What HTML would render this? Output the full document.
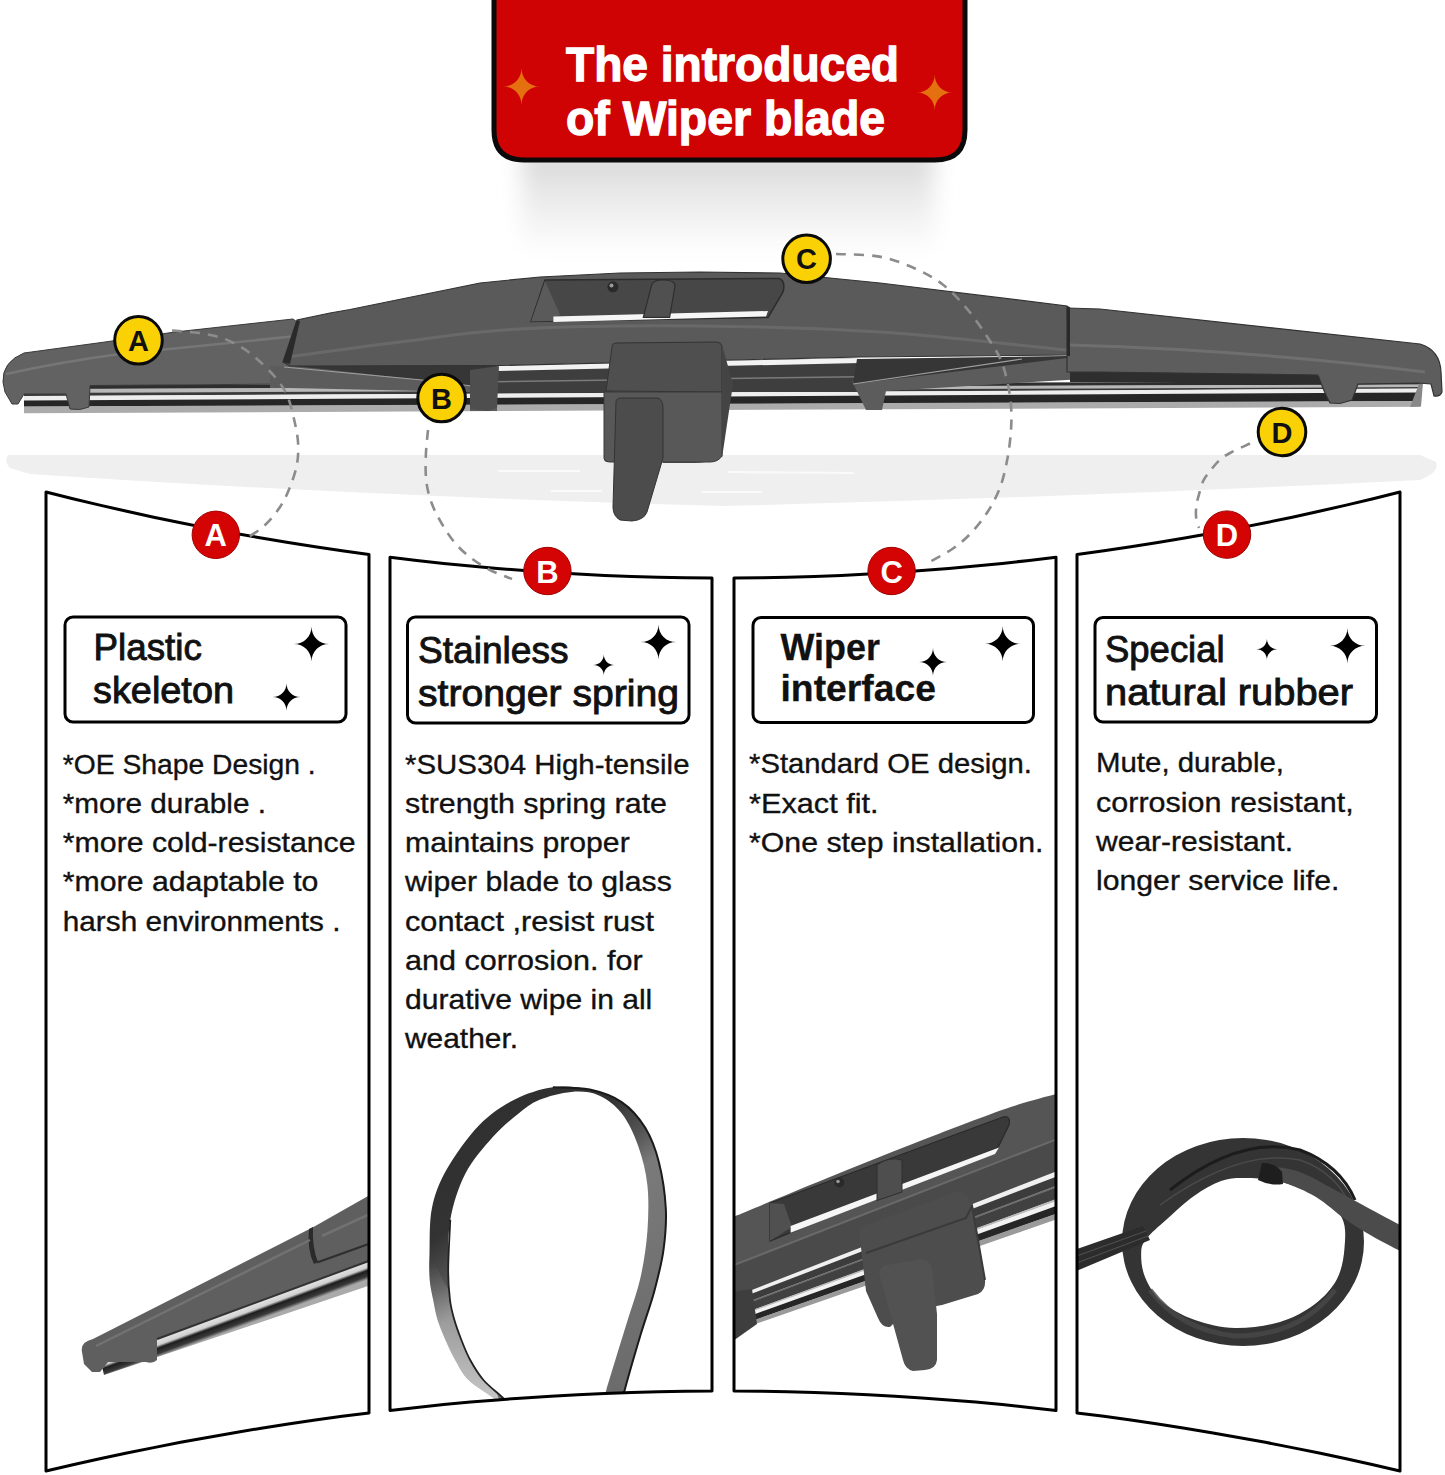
<!DOCTYPE html>
<html><head><meta charset="utf-8"><title>The introduced of Wiper blade</title>
<style>
html,body{margin:0;padding:0;background:#fff;}
body{width:1445px;height:1475px;overflow:hidden;position:relative;font-family:"Liberation Sans",sans-serif;}
svg{position:absolute;left:0;top:0;display:block;}
</style></head><body>
<svg width="1445" height="1475" viewBox="0 0 1445 1475">
<defs>
<filter id="blur8" x="-20%" y="-50%" width="140%" height="200%"><feGaussianBlur stdDeviation="14"/></filter>
<filter id="blur2"><feGaussianBlur stdDeviation="1.2"/></filter>
<linearGradient id="railg" x1="0" y1="0" x2="0" y2="1">
<stop offset="0" stop-color="#e8e8e8"/><stop offset="0.12" stop-color="#cfcfcf"/>
<stop offset="0.2" stop-color="#2a2a2a"/><stop offset="0.42" stop-color="#3a3a3a"/>
<stop offset="0.47" stop-color="#9a9a9a"/><stop offset="0.55" stop-color="#e6e6e6"/>
<stop offset="0.66" stop-color="#dcdcdc"/><stop offset="0.72" stop-color="#1e1e1e"/>
<stop offset="0.84" stop-color="#2a2a2a"/><stop offset="0.9" stop-color="#b5b5b5"/>
<stop offset="1" stop-color="#9a9a9a"/>
</linearGradient>
<linearGradient id="railA" gradientUnits="userSpaceOnUse" x1="230" y1="1300" x2="240" y2="1327">
<stop offset="0" stop-color="#2a2a2a"/><stop offset="0.3" stop-color="#3a3a3a"/><stop offset="0.45" stop-color="#e0e0e0"/>
<stop offset="0.6" stop-color="#cfcfcf"/><stop offset="0.7" stop-color="#1e1e1e"/><stop offset="0.88" stop-color="#3a3a3a"/><stop offset="1" stop-color="#aaa"/></linearGradient>
<linearGradient id="railC" gradientUnits="userSpaceOnUse" x1="880" y1="1235" x2="900" y2="1290">
<stop offset="0" stop-color="#f0f0f0"/><stop offset="0.12" stop-color="#ddd"/><stop offset="0.18" stop-color="#3a3a3a"/>
<stop offset="0.45" stop-color="#444"/><stop offset="0.55" stop-color="#cfcfcf"/><stop offset="0.62" stop-color="#f0f0f0"/>
<stop offset="0.7" stop-color="#2a2a2a"/><stop offset="0.85" stop-color="#333"/><stop offset="1" stop-color="#bbb"/></linearGradient>
<linearGradient id="loopB" gradientUnits="userSpaceOnUse" x1="440" y1="1100" x2="660" y2="1380">
<stop offset="0" stop-color="#2e2e2e"/><stop offset="0.3" stop-color="#333"/><stop offset="0.42" stop-color="#555"/><stop offset="0.5" stop-color="#7a7a7a"/>
<stop offset="1" stop-color="#6a6a6a"/></linearGradient>
<linearGradient id="loopBL" gradientUnits="userSpaceOnUse" x1="0" y1="1262" x2="0" y2="1400">
<stop offset="0" stop-color="#fff" stop-opacity="0"/><stop offset="0.5" stop-color="#fff" stop-opacity="0.3"/><stop offset="1" stop-color="#fff" stop-opacity="0.6"/></linearGradient>
</defs>
<linearGradient id="shg" x1="0" y1="0" x2="0" y2="1"><stop offset="0" stop-color="#d4d4d4"/><stop offset="0.35" stop-color="#e6e6e6"/><stop offset="0.75" stop-color="#f6f6f6"/><stop offset="1" stop-color="#fff"/></linearGradient>
<filter id="blur10" x="-20%" y="-30%" width="140%" height="160%"><feGaussianBlur stdDeviation="11"/></filter>
<rect x="522" y="150" width="412" height="105" fill="url(#shg)" filter="url(#blur10)"/>
<path d="M494,-5 L494,130 Q494,160 524,160 L935,160 Q965,160 965,130 L965,-5 Z" fill="#cf0303" stroke="#0a0a0a" stroke-width="5"/>
<path d="M521.50,68.00 C521.50,78.36 529.42,86.50 539.50,86.50 C529.42,86.50 521.50,94.64 521.50,105.00 C521.50,94.64 513.58,86.50 503.50,86.50 C513.58,86.50 521.50,78.36 521.50,68.00 Z" fill="#e5700f"/>
<path d="M934.70,74.50 C934.70,84.58 942.40,92.50 952.20,92.50 C942.40,92.50 934.70,100.42 934.70,110.50 C934.70,100.42 927.00,92.50 917.20,92.50 C927.00,92.50 934.70,84.58 934.70,74.50 Z" fill="#e5700f"/>
<text x="566" y="80.5" font-family="Liberation Sans" font-weight="bold" font-size="48" fill="#fff" stroke="#fff" stroke-width="1.3" textLength="333" lengthAdjust="spacingAndGlyphs">The introduced</text>
<text x="566" y="135" font-family="Liberation Sans" font-weight="bold" font-size="48" fill="#fff" stroke="#fff" stroke-width="1.3" textLength="319" lengthAdjust="spacingAndGlyphs">of Wiper blade</text>
<path d="M8,455 Q4,462 10,468 L30,474 Q360,496 723,506 Q1080,497 1420,480 Q1440,472 1436,462 L1420,455 Z" fill="#efefef"/>
<path d="M498,471 L580,471 M728,472 L854,473 M551,491 L602,491 M701,492 L762,492" stroke="#fafafa" stroke-width="2.2" fill="none"/>
<path d="M24,385.0 L1420,381.5 L1420,384.8 L24,389.3 Z" fill="#2e2e2e"/>
<path d="M24,389.0 L1420,384.5 L1420,387.3 L24,393.3 Z" fill="#b8b8b8"/>
<path d="M24,393.0 L1420,387.0 L1420,388.8 L24,396.3 Z" fill="#3a3a3a"/>
<path d="M24,396.0 L1420,388.5 L1420,392.8 L24,400.8 Z" fill="#eeeeee"/>
<path d="M24,400.5 L1420,392.5 L1420,401.3 L24,406.8 Z" fill="#262626"/>
<path d="M24,406.5 L1420,401.0 L1420,406.8 L24,413.3 Z" fill="#ababab"/>
<path d="M1420,381.5 L1423,383 L1421,406.5 L1410,407 Z" fill="#888"/>
<path d="M497,365.5 L860,358 L860,392 L497,392 Z" fill="#3e3e3e"/>
<path d="M497,365.5 L860,358 L860,363 L497,371 Z" fill="#f2f2f2"/>
<path d="M497,381 L860,376 L860,377.5 L497,382.5 Z" fill="#7a7a7a"/>
<path d="M3,382 Q2,362 24,353 L105,342 L175,332 L293,319 L297,322 L297,384 L90,385.5 L89,407 Q80,411 70,409 L66,394 L24,394 L18,404 L12,404 L5,392 Z" fill="#626262" stroke="#3a3a3a" stroke-width="1"/>
<path d="M6,374 Q60,362 120,354 L297,336" stroke="#7c7c7c" stroke-width="2.5" fill="none" opacity="0.8"/>
<path d="M270,366 L290,366 L497,364 L497,411 L470,411 L470,392 L290,388 L270,388 Z" fill="#5c5c5c"/>
<path d="M290,366 L497,364 L497,389 L422,380 L322,369 Z" fill="#363636"/>
<path d="M284,367 L422,380 L497,389" stroke="#a0a0a0" stroke-width="1.2" fill="none"/>
<path d="M470,370 L499,366 L497,408 L488,411 L470,409 Z" fill="#4e4e4e"/>
<path d="M283,362 L297,320 L330,313 L350,309.5 L480,283 L540,277 L620,273 L700,272 L780,273 L880,283 L1067,306 L1069,355 L860,357 L500,365.5 L290,366 Z" fill="#5a5a5a" stroke="#333" stroke-width="1.2"/>
<path d="M287.0,357.0 C305.8,354.5 361.2,346.7 400.0,342.0 C438.8,337.3 470.0,331.7 520.0,329.0 C570.0,326.3 640.0,325.5 700.0,326.0 C760.0,326.5 818.8,328.0 880.0,332.0 C941.2,336.0 1035.8,347.0 1067.0,350.0" stroke="#6c6c6c" stroke-width="3" fill="none" opacity="0.85"/>
<path d="M283,362 L297,320 L300,321 L290,364 Z" fill="#2a2a2a"/>
<path d="M531,321.5 L545,280 L779,278.5 Q786,281 783,292 L768,317.5 Z" fill="#474747" stroke="#2c2c2c" stroke-width="1.5"/>
<path d="M545,281 L560,314.5 L553,321 L531,321.5 Z" fill="#5a5a5a"/>
<path d="M553.4,316.5 L768,311 L766,316.5 L553.4,322 Z" fill="#f6f6f6"/>
<circle cx="612.9" cy="286.8" r="5.5" fill="#2a2a2a"/><circle cx="611.5" cy="285.5" r="2" fill="#999"/>
<path d="M643.3,317.3 L651.6,285 Q653,280 663,280 Q675,280 675,286 L669.6,317.3 Z" fill="#505050" stroke="#2e2e2e" stroke-width="1.2"/>
<path d="M852,381 L1067,357 L1100,372 L1100,378 L886,391 L882,410 L866,410 Z" fill="#5c5c5c"/>
<path d="M857,359 L1067,356 L1067,358 L853,384 Z" fill="#363636"/>
<path d="M853,384 L1022,359" stroke="#a0a0a0" stroke-width="1.2" fill="none"/>
<path d="M1070,370 L1310,371 Q1318,373 1322,382 L1070,382 Z" fill="#2e2e2e"/>
<path d="M1067,308 L1100,309 L1420,344 Q1440,350 1441,372 L1442,392 Q1440,397 1434,396 L1431,384 L1418,383 L1358,384 L1352,400 L1340,403.5 L1330,403 Q1324,392 1318,375 L1100,372 L1067,372 Z" fill="#5d5d5d" stroke="#333" stroke-width="1.2"/>
<path d="M1070,345 Q1250,350 1425,372" stroke="#747474" stroke-width="3" fill="none" opacity="0.8"/>
<path d="M1067,306 L1070,307 L1070,356 L1067,356 Z" fill="#2a2a2a"/>
<path d="M612,343 L721,342 L732,384 L711,460 Q705,463 695,463 L663,463 L660,398 L614,399 L604,457 Q603,462 608,462 L613,462 Z" fill="#525252"/>
<path d="M612,347 Q612,343 617,343 L716,342 Q721,342 722,347 L722,392 L606,391 Z" fill="#4f4f4f" stroke="#333" stroke-width="1"/>
<path d="M604,392 L722,392 L722,456 Q718,462 710,462 L610,462 Q603,462 604,455 Z" fill="#585858" stroke="#3a3a3a" stroke-width="1"/>
<path d="M722,345 L733,384 L722,458 Z" fill="#444"/>
<path d="M616,402 Q616,398 622,398 L656,398 Q663,398 663,408 L663,458 L647,512 Q644,520 632,521 L620,520 Q613,516 613,507 Z" fill="#4c4c4c" stroke="#333" stroke-width="1"/>
<defs>
<clipPath id="pc0"><path d="M46.0,492.0 L72.9,498.7 L99.8,505.1 L126.8,511.3 L153.7,517.2 L180.6,522.8 L207.5,528.1 L234.4,533.2 L261.3,538.0 L288.2,542.5 L315.2,546.8 L342.1,550.8 L369.0,554.5 L369.0,1412.9 L342.1,1416.3 L315.2,1420.0 L288.2,1424.0 L261.3,1428.2 L234.4,1432.7 L207.5,1437.4 L180.6,1442.3 L153.7,1447.6 L126.8,1453.0 L99.8,1458.8 L72.9,1464.7 L46.0,1471.0 Z"/></clipPath>
<clipPath id="pc1"><path d="M390.0,557.2 L416.8,560.4 L443.7,563.4 L470.5,566.0 L497.3,568.4 L524.2,570.6 L551.0,572.5 L577.8,574.0 L604.7,575.4 L631.5,576.4 L658.3,577.2 L685.2,577.7 L712.0,578.0 L712.0,1391.0 L685.2,1391.2 L658.3,1391.7 L631.5,1392.5 L604.7,1393.4 L577.8,1394.7 L551.0,1396.2 L524.2,1397.9 L497.3,1399.9 L470.5,1402.1 L443.7,1404.6 L416.8,1407.4 L390.0,1410.4 Z"/></clipPath>
<clipPath id="pc2"><path d="M734.0,578.0 L760.8,577.7 L787.7,577.2 L814.5,576.4 L841.3,575.4 L868.2,574.0 L895.0,572.5 L921.8,570.6 L948.7,568.4 L975.5,566.0 L1002.3,563.4 L1029.2,560.4 L1056.0,557.2 L1056.0,1410.4 L1029.2,1407.4 L1002.3,1404.6 L975.5,1402.1 L948.7,1399.9 L921.8,1397.9 L895.0,1396.2 L868.2,1394.7 L841.3,1393.4 L814.5,1392.5 L787.7,1391.7 L760.8,1391.2 L734.0,1391.0 Z"/></clipPath>
<clipPath id="pc3"><path d="M1077.0,554.5 L1103.9,550.8 L1130.8,546.8 L1157.8,542.5 L1184.7,538.0 L1211.6,533.2 L1238.5,528.1 L1265.4,522.8 L1292.3,517.2 L1319.2,511.3 L1346.2,505.1 L1373.1,498.7 L1400.0,492.0 L1400.0,1471.0 L1373.1,1464.7 L1346.2,1458.8 L1319.2,1453.0 L1292.3,1447.6 L1265.4,1442.3 L1238.5,1437.4 L1211.6,1432.7 L1184.7,1428.2 L1157.8,1424.0 L1130.8,1420.0 L1103.9,1416.3 L1077.0,1412.9 Z"/></clipPath>
</defs>
<path d="M46.0,492.0 L72.9,498.7 L99.8,505.1 L126.8,511.3 L153.7,517.2 L180.6,522.8 L207.5,528.1 L234.4,533.2 L261.3,538.0 L288.2,542.5 L315.2,546.8 L342.1,550.8 L369.0,554.5 L369.0,1412.9 L342.1,1416.3 L315.2,1420.0 L288.2,1424.0 L261.3,1428.2 L234.4,1432.7 L207.5,1437.4 L180.6,1442.3 L153.7,1447.6 L126.8,1453.0 L99.8,1458.8 L72.9,1464.7 L46.0,1471.0 Z" fill="#fff"/>
<path d="M390.0,557.2 L416.8,560.4 L443.7,563.4 L470.5,566.0 L497.3,568.4 L524.2,570.6 L551.0,572.5 L577.8,574.0 L604.7,575.4 L631.5,576.4 L658.3,577.2 L685.2,577.7 L712.0,578.0 L712.0,1391.0 L685.2,1391.2 L658.3,1391.7 L631.5,1392.5 L604.7,1393.4 L577.8,1394.7 L551.0,1396.2 L524.2,1397.9 L497.3,1399.9 L470.5,1402.1 L443.7,1404.6 L416.8,1407.4 L390.0,1410.4 Z" fill="#fff"/>
<path d="M734.0,578.0 L760.8,577.7 L787.7,577.2 L814.5,576.4 L841.3,575.4 L868.2,574.0 L895.0,572.5 L921.8,570.6 L948.7,568.4 L975.5,566.0 L1002.3,563.4 L1029.2,560.4 L1056.0,557.2 L1056.0,1410.4 L1029.2,1407.4 L1002.3,1404.6 L975.5,1402.1 L948.7,1399.9 L921.8,1397.9 L895.0,1396.2 L868.2,1394.7 L841.3,1393.4 L814.5,1392.5 L787.7,1391.7 L760.8,1391.2 L734.0,1391.0 Z" fill="#fff"/>
<path d="M1077.0,554.5 L1103.9,550.8 L1130.8,546.8 L1157.8,542.5 L1184.7,538.0 L1211.6,533.2 L1238.5,528.1 L1265.4,522.8 L1292.3,517.2 L1319.2,511.3 L1346.2,505.1 L1373.1,498.7 L1400.0,492.0 L1400.0,1471.0 L1373.1,1464.7 L1346.2,1458.8 L1319.2,1453.0 L1292.3,1447.6 L1265.4,1442.3 L1238.5,1437.4 L1211.6,1432.7 L1184.7,1428.2 L1157.8,1424.0 L1130.8,1420.0 L1103.9,1416.3 L1077.0,1412.9 Z" fill="#fff"/>
<g clip-path="url(#pc0)"><path d="M104,1375 L368,1286 L368,1260 L155,1338 L100,1358 Z" fill="url(#railA)"/></g>
<g clip-path="url(#pc0)"><path d="M82,1352 Q80,1342 93,1339 L312.5,1227.5 L317,1225 L370,1195 L370,1261 L157,1339 L157,1360 Q153,1364 146,1362 L108,1362 L100,1372 L92,1372 L84,1364 Z" fill="#5f5f5f"/></g>
<g clip-path="url(#pc0)"><path d="M309,1229 L313,1227 Q312,1248 318,1262 L314,1264 Q307,1250 309,1229 Z" fill="#2a2a2a"/></g>
<g clip-path="url(#pc0)"><path d="M317,1262.5 L370,1243.5" stroke="#2e2e2e" stroke-width="2" fill="none"/></g>
<g clip-path="url(#pc0)"><path d="M157,1339 L370,1260.5" stroke="#333" stroke-width="2" fill="none"/></g>
<g clip-path="url(#pc0)"><path d="M96,1346 L310,1240 M322,1236 L370,1214" stroke="#727272" stroke-width="2.5" fill="none"/></g>
<g clip-path="url(#pc1)"><path d="M500.0,1404.0 C498.7,1402.8 497.4,1401.0 492.2,1397.0 C486.9,1393.0 474.7,1386.2 468.5,1380.0 C462.3,1373.8 459.0,1366.7 455.2,1360.0 C451.4,1353.3 448.4,1346.7 445.5,1340.0 C442.6,1333.3 439.7,1326.7 437.6,1320.0 C435.6,1313.3 434.5,1306.7 433.2,1300.0 C431.9,1293.3 430.3,1287.7 429.7,1280.0 C429.1,1272.3 429.1,1266.0 429.5,1254.0 C429.9,1242.0 429.0,1222.5 431.9,1208.3 C434.8,1194.1 439.0,1182.9 446.9,1169.1 C454.8,1155.3 468.0,1136.8 479.1,1125.3 C490.2,1113.8 501.4,1106.3 513.7,1100.0 C526.0,1093.7 540.2,1089.0 552.9,1087.3 C565.6,1085.6 578.3,1087.1 589.8,1089.6 C601.3,1092.1 612.8,1096.0 622.0,1102.3 C631.2,1108.6 639.0,1117.6 645.1,1127.6 C651.2,1137.6 655.5,1148.8 658.9,1162.2 C662.3,1175.7 665.0,1193.7 665.8,1208.3 C666.6,1222.9 665.4,1236.0 663.5,1249.8 C661.6,1263.6 658.1,1277.0 654.3,1291.2 C650.5,1305.4 645.5,1318.3 640.5,1335.0 C635.5,1351.7 627.3,1380.2 624.3,1391.5 C621.3,1402.8 622.8,1401.1 622.5,1403.0 L604.5,1403.0 C604.7,1401.1 602.2,1404.8 605.9,1391.5 C609.6,1378.2 620.8,1342.5 626.6,1323.5 C632.4,1304.5 637.0,1292.8 640.5,1277.4 C644.0,1262.0 646.2,1246.7 647.4,1231.3 C648.5,1215.9 648.9,1199.4 647.4,1185.2 C645.9,1171.0 642.4,1157.9 638.2,1146.0 C634.0,1134.1 628.5,1122.2 622.0,1113.8 C615.5,1105.4 607.5,1099.1 599.0,1095.4 C590.5,1091.8 581.3,1091.1 571.3,1091.9 C561.3,1092.7 547.8,1096.3 539.0,1100.0 C530.2,1103.7 526.0,1107.7 518.3,1113.8 C510.6,1119.9 501.8,1126.8 493.0,1136.8 C484.2,1146.8 472.4,1159.9 465.3,1173.7 C458.2,1187.5 453.2,1203.8 450.3,1219.8 C447.4,1235.8 448.2,1256.6 448.2,1270.0 C448.1,1283.4 449.0,1291.7 450.0,1300.0 C451.0,1308.3 452.5,1313.3 454.4,1320.0 C456.3,1326.7 458.8,1333.3 461.4,1340.0 C464.0,1346.7 466.5,1353.3 470.2,1360.0 C473.9,1366.7 478.1,1373.8 483.4,1380.0 C488.7,1386.2 497.9,1393.0 502.0,1397.0 C506.1,1401.0 507.0,1402.8 508.0,1404.0 Z" fill="url(#loopB)"/></g>
<g clip-path="url(#pc1)"><path d="M500.0,1404.0 C498.7,1402.8 497.4,1401.0 492.2,1397.0 C486.9,1393.0 474.7,1386.2 468.5,1380.0 C462.3,1373.8 459.0,1366.7 455.2,1360.0 C451.4,1353.3 448.4,1346.7 445.5,1340.0 C442.6,1333.3 439.7,1326.7 437.6,1320.0 C435.6,1313.3 434.5,1306.7 433.2,1300.0 C431.9,1293.3 430.3,1287.7 429.7,1280.0 C429.1,1272.3 429.5,1258.3 429.5,1254.0 L508.0,1404.0 C507.0,1402.8 506.1,1401.0 502.0,1397.0 C497.9,1393.0 488.7,1386.2 483.4,1380.0 C478.1,1373.8 473.9,1366.7 470.2,1360.0 C466.5,1353.3 464.0,1346.7 461.4,1340.0 C458.8,1333.3 456.3,1326.7 454.4,1320.0 C452.5,1313.3 451.0,1308.3 450.0,1300.0 C449.0,1291.7 448.1,1283.4 448.2,1270.0 C448.2,1256.6 449.9,1228.2 450.3,1219.8 Z" fill="url(#loopBL)"/></g>
<g clip-path="url(#pc1)"><path d="M552.9,1087.3 C559.0,1087.7 578.3,1087.1 589.8,1089.6 C601.3,1092.1 612.8,1096.0 622.0,1102.3 C631.2,1108.6 639.0,1117.6 645.1,1127.6 C651.2,1137.6 655.5,1148.8 658.9,1162.2 C662.3,1175.7 665.0,1193.7 665.8,1208.3 C666.6,1222.9 665.4,1236.0 663.5,1249.8 C661.6,1263.6 658.1,1277.0 654.3,1291.2 C650.5,1305.4 645.5,1318.3 640.5,1335.0 C635.5,1351.7 627.3,1380.2 624.3,1391.5 C621.3,1402.8 622.8,1401.1 622.5,1403.0" stroke="#1a1a1a" stroke-width="2" fill="none"/></g>
<g clip-path="url(#pc1)"><path d="M450.3,1219.8 C449.9,1228.2 448.2,1256.6 448.2,1270.0 C448.1,1283.4 449.0,1291.7 450.0,1300.0 C451.0,1308.3 452.5,1313.3 454.4,1320.0 C456.3,1326.7 458.8,1333.3 461.4,1340.0 C464.0,1346.7 466.5,1353.3 470.2,1360.0 C473.9,1366.7 478.1,1373.8 483.4,1380.0 C488.7,1386.2 497.9,1393.0 502.0,1397.0 C506.1,1401.0 507.0,1402.8 508.0,1404.0" stroke="#222" stroke-width="1.8" fill="none"/></g>
<g clip-path="url(#pc2)"><path d="M733,1297.0 L1058,1170.3 L1058,1176.2 L733,1301.3 Z" fill="#f0f0f0"/></g>
<g clip-path="url(#pc2)"><path d="M733,1301.0 L1058,1175.9 L1058,1185.3 L733,1307.8 Z" fill="#3c3c3c"/></g>
<g clip-path="url(#pc2)"><path d="M733,1307.5 L1058,1185.0 L1058,1187.1 L733,1309.1 Z" fill="#707070"/></g>
<g clip-path="url(#pc2)"><path d="M733,1308.8 L1058,1186.8 L1058,1198.6 L733,1317.3 Z" fill="#414141"/></g>
<g clip-path="url(#pc2)"><path d="M733,1317.0 L1058,1198.3 L1058,1200.7 L733,1318.8 Z" fill="#bcbcbc"/></g>
<g clip-path="url(#pc2)"><path d="M733,1318.5 L1058,1200.4 L1058,1205.6 L733,1322.3 Z" fill="#f2f2f2"/></g>
<g clip-path="url(#pc2)"><path d="M733,1322.0 L1058,1205.3 L1058,1213.3 L733,1327.8 Z" fill="#262626"/></g>
<g clip-path="url(#pc2)"><path d="M733,1327.5 L1058,1213.0 L1058,1218.9 L733,1331.8 Z" fill="#9a9a9a"/></g>
<g clip-path="url(#pc2)"><path d="M733.0,1217.0 C748.3,1210.7 794.7,1191.3 825.0,1179.0 C855.3,1166.7 885.0,1154.7 915.0,1143.0 C945.0,1131.3 981.2,1117.2 1005.0,1109.0 C1028.8,1100.8 1049.2,1096.1 1058.0,1093.5 L1058,1138.7 L733,1265.4 Z" fill="#555"/></g>
<g clip-path="url(#pc2)"><path d="M733,1265.4 L1058,1138.7 L1058,1170.6 L733,1297.3 Z" fill="#4a4a4a"/></g>
<g clip-path="url(#pc2)"><path d="M733,1265.4 L1058,1138.7" stroke="#6a6a6a" stroke-width="2" fill="none"/></g>
<g clip-path="url(#pc2)"><path d="M733,1292 L752,1289 L757,1324 L733,1341 Z" fill="#3e3e3e"/></g>
<g clip-path="url(#pc2)"><path d="M770,1203 L1003,1117 Q1011,1115 1009,1125 L998,1147.5 L770,1241 Z" fill="#393939" stroke="#2a2a2a" stroke-width="1.2"/></g>
<g clip-path="url(#pc2)"><path d="M770,1203 L784,1204 L792,1227 L770,1241 Z" fill="#505050"/></g>
<g clip-path="url(#pc2)"><path d="M790.6,1226 L999,1147.5 L995,1154 L790.6,1232.7 Z" fill="#f6f6f6"/></g>
<g clip-path="url(#pc2)"><path d="M877,1165 Q889,1156 902,1160 L902,1192 L877,1200.5 Z" fill="#4e4e4e" stroke="#2e2e2e" stroke-width="1"/></g>
<g clip-path="url(#pc2)"><circle cx="839.4" cy="1182.5" r="5" fill="#2a2a2a"/><circle cx="838" cy="1181.5" r="1.8" fill="#999"/></g>
<g clip-path="url(#pc2)"><path d="M859,1230 Q860,1226 866,1225 L956,1192 Q962,1191 966,1196 L973,1206 L985,1280 Q986,1290 978,1294 L942,1305 L905,1312 L890,1327 Q882,1328 878,1318 L866,1291 Z" fill="#4d4d4d"/></g>
<g clip-path="url(#pc2)"><path d="M879,1273 Q880,1266 887,1265 L922,1259 Q929,1260 932,1268 L937,1314 L937,1360 Q936,1369 925,1370 L913,1371 Q905,1369 903,1360 Z" fill="#525252"/></g>
<g clip-path="url(#pc2)"><path d="M866,1253 L966,1218 L972,1206 L985,1280" stroke="#3a3a3a" stroke-width="2" fill="none"/></g>
<g clip-path="url(#pc3)"><path d="M1122,1242 A121,104 0 1,0 1364,1242 A121,104 0 1,0 1122,1242 Z M1141.2,1252.0 C1140.9,1258.5 1141.5,1268.7 1145.0,1277.0 C1148.5,1285.3 1153.7,1294.8 1162.0,1302.0 C1170.3,1309.2 1182.8,1315.7 1195.0,1320.0 C1207.2,1324.3 1220.8,1327.7 1235.0,1328.0 C1249.2,1328.3 1266.7,1326.0 1280.0,1322.0 C1293.3,1318.0 1305.5,1311.2 1315.0,1304.0 C1324.5,1296.8 1332.1,1288.3 1337.0,1279.0 C1341.9,1269.7 1343.7,1258.2 1344.5,1248.0 C1345.3,1237.8 1346.4,1226.7 1342.0,1218.0 C1337.6,1209.3 1328.2,1202.0 1318.0,1196.0 C1307.8,1190.0 1292.5,1184.7 1280.5,1181.7 C1268.5,1178.7 1255.9,1178.1 1246.0,1178.0 C1236.1,1177.9 1229.7,1178.0 1221.0,1181.0 C1212.3,1184.0 1203.2,1189.5 1194.0,1196.0 C1184.8,1202.5 1173.8,1213.0 1166.0,1220.0 C1158.2,1227.0 1151.1,1232.7 1147.0,1238.0 C1142.9,1243.3 1141.5,1245.5 1141.2,1252.0 Z" fill="#343434" fill-rule="evenodd"/></g>
<g clip-path="url(#pc3)"><path d="M1150,1290 Q1180,1330 1235,1336 Q1300,1336 1335,1290" stroke="#484848" stroke-width="5" fill="none" opacity="0.8"/></g>
<g clip-path="url(#pc3)"><path d="M1170,1190 Q1240,1135 1300,1150 Q1340,1165 1355,1200" stroke="#1c1c1c" stroke-width="3" fill="none"/></g>
<g clip-path="url(#pc3)"><path d="M1160,1205 Q1240,1148 1300,1160 Q1335,1172 1350,1205" stroke="#4a4a4a" stroke-width="1.5" fill="none"/></g>
<g clip-path="url(#pc3)"><path d="M1074,1250 L1143,1226 L1150,1240 L1074,1272 Z" fill="#2c2c2c"/></g>
<g clip-path="url(#pc3)"><path d="M1074,1257 L1146,1231 M1074,1264 L1148,1236" stroke="#4d4d4d" stroke-width="1.3" fill="none"/></g>
<g clip-path="url(#pc3)"><path d="M1268.0,1166.0 C1273.3,1167.0 1288.8,1168.0 1300.0,1172.0 C1311.2,1176.0 1323.3,1183.8 1335.0,1190.0 C1346.7,1196.2 1358.8,1203.0 1370.0,1209.0 C1381.2,1215.0 1396.7,1223.2 1402.0,1226.0 L1402,1252 L1402.0,1252.0 C1397.0,1249.3 1381.5,1241.5 1372.0,1236.0 C1362.5,1230.5 1354.3,1225.5 1345.0,1219.0 C1335.7,1212.5 1326.0,1203.0 1316.0,1197.0 C1306.0,1191.0 1292.7,1185.5 1285.0,1183.0 C1277.3,1180.5 1272.5,1182.2 1270.0,1182.0 Z" fill="#4b4b4b"/></g>
<g clip-path="url(#pc3)"><path d="M1262,1163 Q1276,1163 1282,1172 L1283,1184 Q1270,1186 1258,1180 Z" fill="#1e1e1e"/></g>
<path d="M46.0,492.0 L72.9,498.7 L99.8,505.1 L126.8,511.3 L153.7,517.2 L180.6,522.8 L207.5,528.1 L234.4,533.2 L261.3,538.0 L288.2,542.5 L315.2,546.8 L342.1,550.8 L369.0,554.5 L369.0,1412.9 L342.1,1416.3 L315.2,1420.0 L288.2,1424.0 L261.3,1428.2 L234.4,1432.7 L207.5,1437.4 L180.6,1442.3 L153.7,1447.6 L126.8,1453.0 L99.8,1458.8 L72.9,1464.7 L46.0,1471.0 Z" fill="none" stroke="#000" stroke-width="3" stroke-linejoin="round"/>
<path d="M390.0,557.2 L416.8,560.4 L443.7,563.4 L470.5,566.0 L497.3,568.4 L524.2,570.6 L551.0,572.5 L577.8,574.0 L604.7,575.4 L631.5,576.4 L658.3,577.2 L685.2,577.7 L712.0,578.0 L712.0,1391.0 L685.2,1391.2 L658.3,1391.7 L631.5,1392.5 L604.7,1393.4 L577.8,1394.7 L551.0,1396.2 L524.2,1397.9 L497.3,1399.9 L470.5,1402.1 L443.7,1404.6 L416.8,1407.4 L390.0,1410.4 Z" fill="none" stroke="#000" stroke-width="3" stroke-linejoin="round"/>
<path d="M734.0,578.0 L760.8,577.7 L787.7,577.2 L814.5,576.4 L841.3,575.4 L868.2,574.0 L895.0,572.5 L921.8,570.6 L948.7,568.4 L975.5,566.0 L1002.3,563.4 L1029.2,560.4 L1056.0,557.2 L1056.0,1410.4 L1029.2,1407.4 L1002.3,1404.6 L975.5,1402.1 L948.7,1399.9 L921.8,1397.9 L895.0,1396.2 L868.2,1394.7 L841.3,1393.4 L814.5,1392.5 L787.7,1391.7 L760.8,1391.2 L734.0,1391.0 Z" fill="none" stroke="#000" stroke-width="3" stroke-linejoin="round"/>
<path d="M1077.0,554.5 L1103.9,550.8 L1130.8,546.8 L1157.8,542.5 L1184.7,538.0 L1211.6,533.2 L1238.5,528.1 L1265.4,522.8 L1292.3,517.2 L1319.2,511.3 L1346.2,505.1 L1373.1,498.7 L1400.0,492.0 L1400.0,1471.0 L1373.1,1464.7 L1346.2,1458.8 L1319.2,1453.0 L1292.3,1447.6 L1265.4,1442.3 L1238.5,1437.4 L1211.6,1432.7 L1184.7,1428.2 L1157.8,1424.0 L1130.8,1420.0 L1103.9,1416.3 L1077.0,1412.9 Z" fill="none" stroke="#000" stroke-width="3" stroke-linejoin="round"/>
<path d="M172.0,330.5 C176.5,330.9 190.7,331.8 199.0,333.0 C207.3,334.2 215.0,335.7 222.0,338.0 C229.0,340.3 235.2,343.5 241.0,347.0 C246.8,350.5 251.3,354.0 257.0,359.0 C262.7,364.0 270.0,371.0 275.0,377.0 C280.0,383.0 283.8,388.0 287.0,395.0 C290.2,402.0 292.2,411.2 294.0,419.0 C295.8,426.8 297.5,434.5 298.0,442.0 C298.5,449.5 298.3,456.5 297.0,464.0 C295.7,471.5 292.8,479.8 290.0,487.0 C287.2,494.2 284.3,500.5 280.0,507.0 C275.7,513.5 270.0,520.5 264.0,526.0 C258.0,531.5 247.3,537.7 244.0,540.0" stroke="#8c8c8c" stroke-width="2.6" fill="none" stroke-dasharray="10,8"/>
<path d="M428.0,430.0 C427.6,434.3 426.1,447.3 425.8,456.0 C425.5,464.7 425.4,474.0 426.4,482.0 C427.4,490.0 429.4,497.0 432.0,504.0 C434.6,511.0 438.2,517.5 442.0,524.0 C445.8,530.5 450.2,537.3 455.0,543.0 C459.8,548.7 465.2,553.5 471.0,558.0 C476.8,562.5 483.2,566.5 490.0,570.0 C496.8,573.5 508.3,577.5 512.0,579.0" stroke="#8c8c8c" stroke-width="2.6" fill="none" stroke-dasharray="10,8"/>
<path d="M836.0,254.0 C843.2,254.4 866.1,254.2 879.3,256.6 C892.5,259.0 904.3,263.8 915.0,268.5 C925.7,273.2 934.7,278.3 943.4,285.0 C952.1,291.7 959.9,300.5 967.0,308.8 C974.1,317.1 980.5,326.7 986.0,335.0 C991.5,343.3 996.7,350.8 1000.3,358.7 C1003.9,366.6 1005.7,374.5 1007.5,382.4 C1009.3,390.3 1010.4,398.1 1011.0,406.0 C1011.6,413.9 1011.6,421.3 1011.0,430.0 C1010.4,438.7 1009.3,448.8 1007.5,458.3 C1005.7,467.8 1003.5,478.1 1000.3,486.8 C997.1,495.5 993.2,503.0 988.5,510.5 C983.8,518.0 977.9,525.7 972.0,532.0 C966.1,538.3 960.7,543.2 953.0,548.5 C945.3,553.8 930.5,561.4 926.0,564.0" stroke="#8c8c8c" stroke-width="2.6" fill="none" stroke-dasharray="10,8"/>
<path d="M1250.0,443.5 C1246.7,445.1 1235.0,450.3 1230.0,453.0 C1225.0,455.7 1223.3,456.8 1220.0,459.7 C1216.7,462.6 1213.2,467.0 1210.4,470.5 C1207.6,474.0 1205.2,476.8 1203.3,480.8 C1201.4,484.8 1200.2,490.1 1199.0,494.4 C1197.8,498.6 1196.8,502.2 1196.3,506.3 C1195.8,510.4 1195.8,515.7 1196.3,519.3 C1196.8,522.9 1198.5,526.5 1199.0,528.0" stroke="#8c8c8c" stroke-width="2.6" fill="none" stroke-dasharray="10,8"/>
<rect x="65.0" y="617.0" width="281.0" height="105.0" rx="8" fill="#fff" stroke="#000" stroke-width="3"/>
<rect x="407.5" y="617.0" width="281.5" height="106.0" rx="8" fill="#fff" stroke="#000" stroke-width="3"/>
<rect x="753.0" y="617.5" width="280.5" height="105.0" rx="8" fill="#fff" stroke="#000" stroke-width="3"/>
<rect x="1095.0" y="617.5" width="281.5" height="104.5" rx="8" fill="#fff" stroke="#000" stroke-width="3"/>
<text x="93.5" y="659.6" font-family="Liberation Sans" font-size="37" fill="#111" stroke="#111" stroke-width="0.90" textLength="108.3" lengthAdjust="spacingAndGlyphs">Plastic</text>
<text x="93.0" y="703.0" font-family="Liberation Sans" font-size="37" fill="#111" stroke="#111" stroke-width="0.90" textLength="141.0" lengthAdjust="spacingAndGlyphs">skeleton</text>
<text x="418.0" y="663.4" font-family="Liberation Sans" font-size="37" fill="#111" stroke="#111" stroke-width="0.90" textLength="150.6" lengthAdjust="spacingAndGlyphs">Stainless</text>
<text x="418.0" y="705.7" font-family="Liberation Sans" font-size="37" fill="#111" stroke="#111" stroke-width="0.90" textLength="261.0" lengthAdjust="spacingAndGlyphs">stronger spring</text>
<text x="780.5" y="660.0" font-family="Liberation Sans" font-size="37" font-weight="bold" fill="#111" stroke="#111" stroke-width="0.30" textLength="99.5" lengthAdjust="spacingAndGlyphs">Wiper</text>
<text x="780.5" y="701.0" font-family="Liberation Sans" font-size="37" font-weight="bold" fill="#111" stroke="#111" stroke-width="0.30" textLength="155.5" lengthAdjust="spacingAndGlyphs">interface</text>
<text x="1105.0" y="662.0" font-family="Liberation Sans" font-size="37" fill="#111" stroke="#111" stroke-width="0.90" textLength="119.6" lengthAdjust="spacingAndGlyphs">Special</text>
<text x="1105.0" y="705.0" font-family="Liberation Sans" font-size="37" fill="#111" stroke="#111" stroke-width="0.90" textLength="248.0" lengthAdjust="spacingAndGlyphs">natural rubber</text>
<path d="M311.50,626.40 C311.50,636.26 319.24,644.00 329.10,644.00 C319.24,644.00 311.50,651.74 311.50,661.60 C311.50,651.74 303.76,644.00 293.90,644.00 C303.76,644.00 311.50,636.26 311.50,626.40 Z" fill="#000"/>
<path d="M286.50,683.30 C286.50,691.03 292.57,697.10 300.30,697.10 C292.57,697.10 286.50,703.17 286.50,710.90 C286.50,703.17 280.43,697.10 272.70,697.10 C280.43,697.10 286.50,691.03 286.50,683.30 Z" fill="#000"/>
<path d="M658.50,624.40 C658.50,634.26 666.24,642.00 676.10,642.00 C666.24,642.00 658.50,649.74 658.50,659.60 C658.50,649.74 650.76,642.00 640.90,642.00 C650.76,642.00 658.50,634.26 658.50,624.40 Z" fill="#000"/>
<path d="M603.80,654.60 C603.80,660.42 608.38,665.00 614.20,665.00 C608.38,665.00 603.80,669.58 603.80,675.40 C603.80,669.58 599.22,665.00 593.40,665.00 C599.22,665.00 603.80,660.42 603.80,654.60 Z" fill="#000"/>
<path d="M1002.70,626.00 C1002.70,635.97 1010.53,643.80 1020.50,643.80 C1010.53,643.80 1002.70,651.63 1002.70,661.60 C1002.70,651.63 994.87,643.80 984.90,643.80 C994.87,643.80 1002.70,635.97 1002.70,626.00 Z" fill="#000"/>
<path d="M933.00,648.00 C933.00,655.84 939.16,662.00 947.00,662.00 C939.16,662.00 933.00,668.16 933.00,676.00 C933.00,668.16 926.84,662.00 919.00,662.00 C926.84,662.00 933.00,655.84 933.00,648.00 Z" fill="#000"/>
<path d="M1347.40,627.90 C1347.40,637.87 1355.23,645.70 1365.20,645.70 C1355.23,645.70 1347.40,653.53 1347.40,663.50 C1347.40,653.53 1339.57,645.70 1329.60,645.70 C1339.57,645.70 1347.40,637.87 1347.40,627.90 Z" fill="#000"/>
<path d="M1266.90,638.80 C1266.90,644.68 1271.52,649.30 1277.40,649.30 C1271.52,649.30 1266.90,653.92 1266.90,659.80 C1266.90,653.92 1262.28,649.30 1256.40,649.30 C1262.28,649.30 1266.90,644.68 1266.90,638.80 Z" fill="#000"/>
<text x="62.8" y="773.7" font-family="Liberation Sans" font-size="28.5" fill="#111" stroke="#111" stroke-width="0.35" textLength="252.9" lengthAdjust="spacingAndGlyphs">*OE Shape Design .</text>
<text x="62.8" y="812.9" font-family="Liberation Sans" font-size="28.5" fill="#111" stroke="#111" stroke-width="0.35" textLength="203.2" lengthAdjust="spacingAndGlyphs">*more durable .</text>
<text x="62.8" y="852.1" font-family="Liberation Sans" font-size="28.5" fill="#111" stroke="#111" stroke-width="0.35" textLength="292.8" lengthAdjust="spacingAndGlyphs">*more cold-resistance</text>
<text x="62.8" y="891.3" font-family="Liberation Sans" font-size="28.5" fill="#111" stroke="#111" stroke-width="0.35" textLength="255.6" lengthAdjust="spacingAndGlyphs">*more adaptable to</text>
<text x="62.8" y="930.5" font-family="Liberation Sans" font-size="28.5" fill="#111" stroke="#111" stroke-width="0.35" textLength="277.7" lengthAdjust="spacingAndGlyphs">harsh environments .</text>
<text x="405.0" y="773.7" font-family="Liberation Sans" font-size="28.5" fill="#111" stroke="#111" stroke-width="0.35" textLength="284.5" lengthAdjust="spacingAndGlyphs">*SUS304 High-tensile</text>
<text x="405.0" y="812.9" font-family="Liberation Sans" font-size="28.5" fill="#111" stroke="#111" stroke-width="0.35" textLength="262.0" lengthAdjust="spacingAndGlyphs">strength spring rate</text>
<text x="405.0" y="852.1" font-family="Liberation Sans" font-size="28.5" fill="#111" stroke="#111" stroke-width="0.35" textLength="224.7" lengthAdjust="spacingAndGlyphs">maintains proper</text>
<text x="405.0" y="891.3" font-family="Liberation Sans" font-size="28.5" fill="#111" stroke="#111" stroke-width="0.35" textLength="266.8" lengthAdjust="spacingAndGlyphs">wiper blade to glass</text>
<text x="405.0" y="930.5" font-family="Liberation Sans" font-size="28.5" fill="#111" stroke="#111" stroke-width="0.35" textLength="249.0" lengthAdjust="spacingAndGlyphs">contact ,resist rust</text>
<text x="405.0" y="969.7" font-family="Liberation Sans" font-size="28.5" fill="#111" stroke="#111" stroke-width="0.35" textLength="237.6" lengthAdjust="spacingAndGlyphs">and corrosion. for</text>
<text x="405.0" y="1008.9" font-family="Liberation Sans" font-size="28.5" fill="#111" stroke="#111" stroke-width="0.35" textLength="247.3" lengthAdjust="spacingAndGlyphs">durative wipe in all</text>
<text x="405.0" y="1048.1" font-family="Liberation Sans" font-size="28.5" fill="#111" stroke="#111" stroke-width="0.35" textLength="113.0" lengthAdjust="spacingAndGlyphs">weather.</text>
<text x="749.0" y="773.3" font-family="Liberation Sans" font-size="28.5" fill="#111" stroke="#111" stroke-width="0.35" textLength="283.0" lengthAdjust="spacingAndGlyphs">*Standard OE design.</text>
<text x="749.0" y="812.5" font-family="Liberation Sans" font-size="28.5" fill="#111" stroke="#111" stroke-width="0.35" textLength="129.6" lengthAdjust="spacingAndGlyphs">*Exact fit.</text>
<text x="749.0" y="851.7" font-family="Liberation Sans" font-size="28.5" fill="#111" stroke="#111" stroke-width="0.35" textLength="294.4" lengthAdjust="spacingAndGlyphs">*One step installation.</text>
<text x="1096.0" y="772.3" font-family="Liberation Sans" font-size="28.5" fill="#111" stroke="#111" stroke-width="0.35" textLength="188.0" lengthAdjust="spacingAndGlyphs">Mute, durable,</text>
<text x="1096.0" y="811.5" font-family="Liberation Sans" font-size="28.5" fill="#111" stroke="#111" stroke-width="0.35" textLength="257.7" lengthAdjust="spacingAndGlyphs">corrosion resistant,</text>
<text x="1096.0" y="850.7" font-family="Liberation Sans" font-size="28.5" fill="#111" stroke="#111" stroke-width="0.35" textLength="197.0" lengthAdjust="spacingAndGlyphs">wear-resistant.</text>
<text x="1096.0" y="889.9" font-family="Liberation Sans" font-size="28.5" fill="#111" stroke="#111" stroke-width="0.35" textLength="243.4" lengthAdjust="spacingAndGlyphs">longer service life.</text>
<circle cx="138.5" cy="340.3" r="23.8" fill="#fad105" stroke="#0a0a0a" stroke-width="3"/>
<text x="138.5" y="350.8" font-family="Liberation Sans" font-size="29" font-weight="bold" fill="#111" text-anchor="middle">A</text>
<circle cx="441.6" cy="398.0" r="23.8" fill="#fad105" stroke="#0a0a0a" stroke-width="3"/>
<text x="441.6" y="408.5" font-family="Liberation Sans" font-size="29" font-weight="bold" fill="#111" text-anchor="middle">B</text>
<circle cx="806.6" cy="258.8" r="23.8" fill="#fad105" stroke="#0a0a0a" stroke-width="3"/>
<text x="806.6" y="269.3" font-family="Liberation Sans" font-size="29" font-weight="bold" fill="#111" text-anchor="middle">C</text>
<circle cx="1282.0" cy="432.0" r="23.8" fill="#fad105" stroke="#0a0a0a" stroke-width="3"/>
<text x="1282.0" y="442.5" font-family="Liberation Sans" font-size="29" font-weight="bold" fill="#111" text-anchor="middle">D</text>
<circle cx="215.8" cy="534.8" r="23.7" fill="#d40404" stroke="#a00000" stroke-width="1"/>
<text x="215.8" y="546.3" font-family="Liberation Sans" font-size="31" font-weight="bold" fill="#fff" text-anchor="middle">A</text>
<circle cx="547.4" cy="571.0" r="23.7" fill="#d40404" stroke="#a00000" stroke-width="1"/>
<text x="547.4" y="582.5" font-family="Liberation Sans" font-size="31" font-weight="bold" fill="#fff" text-anchor="middle">B</text>
<circle cx="891.6" cy="571.0" r="23.7" fill="#d40404" stroke="#a00000" stroke-width="1"/>
<text x="891.6" y="582.5" font-family="Liberation Sans" font-size="31" font-weight="bold" fill="#fff" text-anchor="middle">C</text>
<circle cx="1227.0" cy="534.6" r="23.7" fill="#d40404" stroke="#a00000" stroke-width="1"/>
<text x="1227.0" y="546.1" font-family="Liberation Sans" font-size="31" font-weight="bold" fill="#fff" text-anchor="middle">D</text>
</svg>
</body></html>
